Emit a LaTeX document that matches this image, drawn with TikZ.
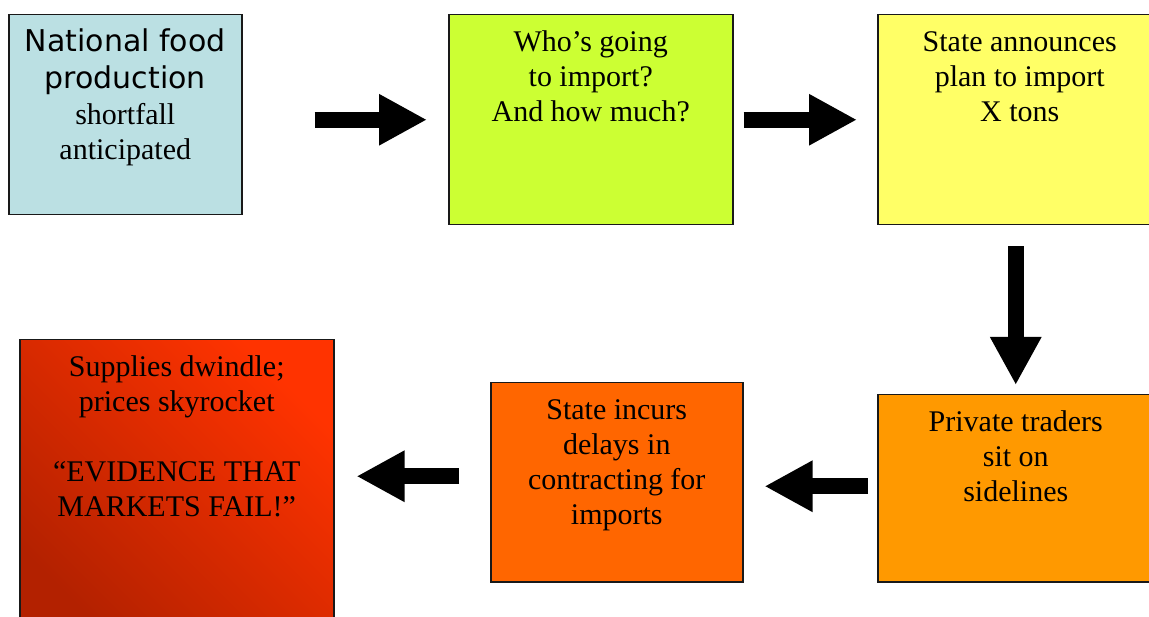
\documentclass[tikz,border=0pt]{standalone}
\usepackage{fontspec}
\setmainfont{Liberation Serif}
\newfontfamily\verdana{DejaVu Sans}
\usetikzlibrary{arrows.meta}

\definecolor{natblue}{HTML}{BBE0E3}
\definecolor{whogreen}{HTML}{CCFF33}
\definecolor{stateyellow}{HTML}{FFFF66}
\definecolor{tradeorange}{HTML}{FF9900}
\definecolor{incurorange}{HTML}{FF6600}
\definecolor{supplyhi}{HTML}{FF3300}
\definecolor{supplylo}{HTML}{B32100}

% box contents: width, height, lines (top aligned)
\newcommand{\boxtext}[3]{\parbox[t][#2][t]{#1}{\centering\rule{0pt}{37pt}#3}}

\begin{document}
\begin{tikzpicture}[
   x=1pt, y=-1pt,
   box/.style={draw=black!90, line width=1.5pt, inner sep=0pt, anchor=north west,
               font=\fontsize{30}{35}\selectfont},
   blockarrow/.style={line width=16pt, -{Triangle[length=48pt,width=48pt]}}
]
\useasboundingbox (0,0) rectangle (1149,617);

% Top row
\node[box, fill=natblue] (nat) at (8,14)
   {\boxtext{233pt}{200pt}{{\verdana National food\\[2pt]production}\\[1pt]shortfall\\anticipated}};
\node[box, fill=whogreen] (who) at (448,14)
   {\boxtext{284pt}{210pt}{Who's going\\to import?\\And how much?}};
\node[box, fill=stateyellow] (state) at (877,14)
   {\boxtext{284pt}{210pt}{State announces\\plan to import\\X tons}};

% Bottom row
\node[box, fill=tradeorange] (traders) at (877,394)
   {\boxtext{276pt}{187pt}{Private traders\\sit on\\sidelines}};
\node[box, fill=incurorange] (incurs) at (490,382)
   {\boxtext{252pt}{199pt}{State incurs\\delays in\\contracting for\\imports}};
\node[box, top color=supplyhi, bottom color=supplylo, shading angle=-45] (supply) at (19,339)
   {\boxtext{314pt}{300pt}{Supplies dwindle;\\prices skyrocket\\[35pt]``EVIDENCE THAT\\MARKETS FAIL!''}};

% Arrows
\draw[blockarrow] ([xshift=72pt]nat.east |- who.west) -- ([xshift=-21pt]who.west);
\draw[blockarrow] ([xshift=10pt]who.east) -- ([xshift=-20pt]state.west);
\draw[blockarrow] ([yshift=-21pt]traders.north |- state.south) -- ([yshift=9pt]traders.north);
\draw[blockarrow] ([xshift=-9pt,yshift=2pt]traders.west) -- ([xshift=21pt,yshift=2pt]incurs.east |- traders.west);
\draw[blockarrow] ([xshift=-31pt,yshift=6pt]incurs.west) -- ([xshift=22pt,yshift=6pt]supply.east |- incurs.west);

\end{tikzpicture}
\end{document}
